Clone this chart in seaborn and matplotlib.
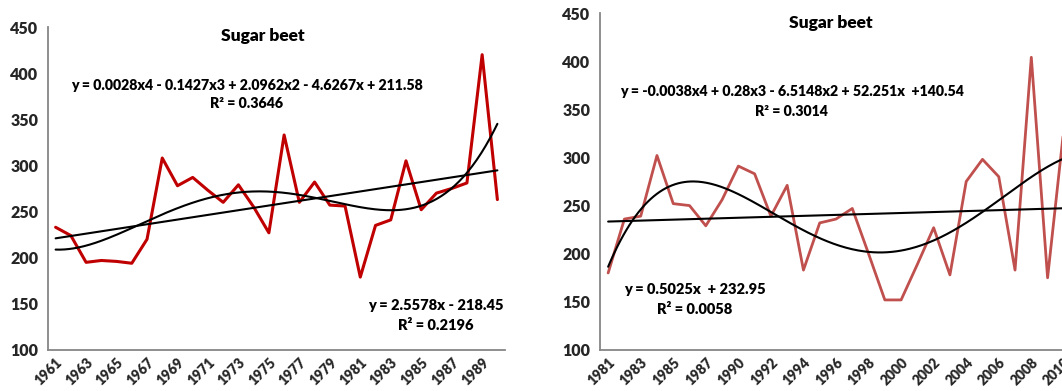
import numpy as np
import pandas as pd
import seaborn as sns
import matplotlib.pyplot as plt

# --- data ---
years_1 = list(range(1961, 1991))
yield_1 = [233, 224, 195, 197, 196, 194, 220, 308, 278, 287,
           273, 260, 279, 255, 227, 333, 260, 282, 257, 256,
           179, 235, 241, 305, 252, 270, 275, 281, 420, 263]

years_2 = list(range(1981, 1989)) + list(range(1990, 2011))
yield_2 = [180, 236, 239, 302, 252, 250, 229, 256, 291, 283,
           239, 271, 183, 232, 236, 247, 200, 152, 152, 189,
           227, 178, 275, 298, 280, 183, 404, 175, 330]

title = "Sugar beet"
poly_txt_1 = ["y = 0.0028x4 - 0.1427x3 + 2.0962x2 - 4.6267x + 211.58", "R² = 0.3646"]
lin_txt_1 = ["y = 2.5578x - 218.45", "R² = 0.2196"]
poly_txt_2 = ["y = -0.0038x4 + 0.28x3 - 6.5148x2 + 52.251x  +140.54", "R² = 0.3014"]
lin_txt_2 = ["y = 0.5025x  + 232.95", "R² = 0.0058"]

W, H = 1062, 391
sns.set_style("white")
plt.rcParams['font.family'] = ['Lato', 'DejaVu Sans']
plt.rcParams['font.weight'] = 'bold'

fig = plt.figure(figsize=(W / 100, H / 100), dpi=100)


def px_axes(x0, y0, x1, y1):
    # axes from pixel box (top-left origin)
    return fig.add_axes([x0 / W, 1 - y1 / H, (x1 - x0) / W, (y1 - y0) / H])


def draw_panel(ax, years, values, color, lw):
    n = len(values)
    idx = np.arange(1, n + 1)
    df = pd.DataFrame({'idx': idx, 'val': values})
    sns.lineplot(data=df, x='idx', y='val', color=color, linewidth=lw, ax=ax)

    # trend lines (Excel style: linear and 4th order polynomial)
    xs = np.linspace(1, n, 300)
    lin = np.polyval(np.polyfit(idx, values, 1), xs)
    poly = np.polyval(np.polyfit(idx, values, 4), xs)
    sns.lineplot(x=xs, y=lin, color='black', linewidth=1.5, ax=ax)
    sns.lineplot(x=xs, y=poly, color='black', linewidth=1.5, ax=ax)

    ax.set_xlim(0.5, n + 0.5)
    ax.set_ylim(100, 450)
    ax.set_yticks(range(100, 451, 50))
    ax.set_xticks(idx[::2])
    ax.set_xticklabels([str(y) for y in years[::2]], rotation=45, ha='right',
                       rotation_mode='anchor', fontsize=10, fontweight='bold')
    ax.set_xticks(np.arange(0.5, n + 1, 1), minor=True)
    ax.tick_params(axis='x', which='major', length=0, pad=4)
    ax.tick_params(axis='x', which='minor', length=4, width=1.1, color='#868686', direction='out')
    ax.tick_params(axis='y', length=4, width=1.1, color='#868686', direction='out',
                   labelsize=11.5, pad=3)
    plt.setp(ax.get_yticklabels(), fontweight='heavy')
    plt.setp(ax.get_xticklabels(), fontweight='heavy')
    ax.set_xlabel('')
    ax.set_ylabel('')
    for s in ['top', 'right']:
        ax.spines[s].set_visible(False)
    for s in ['left', 'bottom']:
        ax.spines[s].set_color('#868686')
        ax.spines[s].set_linewidth(1.3)


def put(x, y, s, size):
    fig.text(x / W, 1 - y / H, s, ha='center', va='center', fontsize=size,
             fontweight='heavy', color='black')


ax1 = px_axes(48, 27, 505, 350)
draw_panel(ax1, years_1, yield_1, '#C00000', 2.2)

ax2 = px_axes(600, 13, 1072, 350)
draw_panel(ax2, years_2, yield_2, '#C0504D', 2.0)

put(263, 36, title, 12.5)
put(247, 85, poly_txt_1[0], 10.2)
put(247, 104, poly_txt_1[1], 10.2)
put(436, 306, lin_txt_1[0], 10.5)
put(436, 326, lin_txt_1[1], 10.5)

put(831, 23, title, 12.5)
put(792, 91, poly_txt_2[0], 10.2)
put(791, 111, poly_txt_2[1], 10.2)
put(695, 289, lin_txt_2[0], 10.5)
put(695, 309, lin_txt_2[1], 10.5)

fig.savefig('out.png', dpi=100)
